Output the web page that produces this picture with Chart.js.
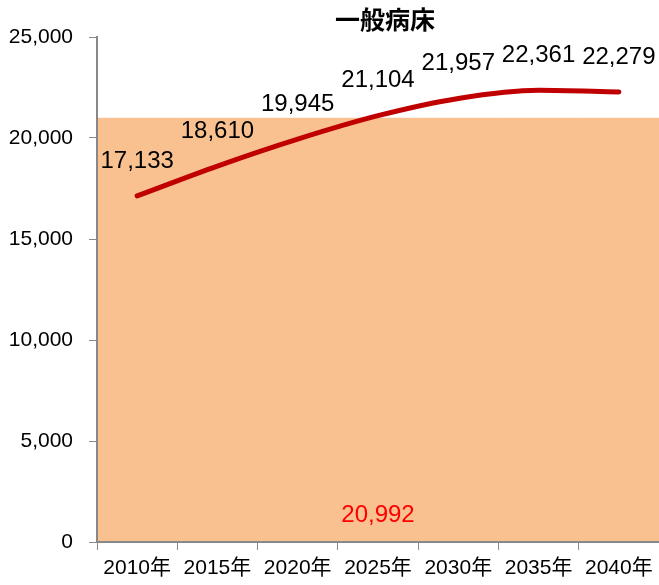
<!DOCTYPE html>
<html>
<head>
<meta charset="utf-8">
<script src="https://cdn.jsdelivr.net/npm/chart.js@4"></script>
<style>
  html, body { margin: 0; padding: 0; background: #fff; }
  #wrap { width: 659px; height: 585px; }
</style>
</head>
<body>
<div id="wrap"><canvas id="bedChart"></canvas></div>
<script>
const years = ['2010年', '2015年', '2020年', '2025年', '2030年', '2035年', '2040年'];
const demand = [17133, 18610, 19945, 21104, 21957, 22361, 22279];
const beds = [20992, 20992, 20992, 20992, 20992, 20992, 20992];
const bedLabelIndex = 3;
const yTicks = [0, 5000, 10000, 15000, 20000, 25000];

const FONT = "'Liberation Sans', 'Noto Sans CJK JP', sans-serif";

const fmt = v => v.toLocaleString('en-US');

// draws the value labels and the title
const labelPlugin = {
  id: 'labels',
  afterDatasetsDraw(chart) {
    const ctx = chart.ctx;
    ctx.save();
    ctx.textAlign = 'center';
    ctx.textBaseline = 'middle';

    const lineMeta = chart.getDatasetMeta(1);
    ctx.font = '24px ' + FONT;
    ctx.fillStyle = '#000';
    lineMeta.data.forEach((pt, i) => {
      ctx.fillText(fmt(demand[i]), pt.x, pt.y - 35);
    });

    const barMeta = chart.getDatasetMeta(0);
    const bar = barMeta.data[bedLabelIndex];
    ctx.fillStyle = '#FF0000';
    ctx.fillText(fmt(beds[bedLabelIndex]), bar.x, bar.base - 26);

    ctx.fillStyle = '#000';
    ctx.font = 'bold 25px ' + FONT;
    ctx.fillText('一般病床', 385, 22);
    ctx.restore();
  }
};

new Chart(document.getElementById('bedChart'), {
  type: 'bar',
  data: {
    labels: years,
    datasets: [
      {
        type: 'bar',
        label: '病床数',
        data: beds,
        backgroundColor: '#F9C190',
        borderWidth: 0,
        barPercentage: 1,
        categoryPercentage: 1,
        order: 2
      },
      {
        type: 'line',
        label: '必要病床数',
        data: demand,
        borderColor: '#C00000',
        borderWidth: 5,
        borderCapStyle: 'round',
        pointRadius: 0,
        cubicInterpolationMode: 'monotone',
        fill: false,
        order: 1
      }
    ]
  },
  options: {
    responsive: true,
    maintainAspectRatio: false,
    animation: false,
    layout: { padding: { top: 37, right: 0, left: 0, bottom: 0 } },
    plugins: {
      legend: { display: false },
      tooltip: { enabled: false },
      title: { display: false }
    },
    scales: {
      x: {
        offset: true,
        grid: {
          display: true,
          offset: true,
          drawOnChartArea: false,
          drawTicks: true,
          tickLength: 8,
          color: '#888',
          z: 1
        },
        border: { color: '#888', width: 2, z: 1 },
        ticks: {
          color: '#000',
          padding: 6,
          maxRotation: 0,
          minRotation: 0,
          autoSkip: false,
          font: { family: FONT, size: 21 }
        },
        afterFit: scale => { scale.height = 43; }
      },
      y: {
        min: 0,
        max: 25000,
        afterBuildTicks: scale => { scale.ticks = yTicks.map(v => ({ value: v })); },
        grid: {
          display: true,
          drawOnChartArea: false,
          drawTicks: true,
          tickLength: 8,
          color: '#888',
          z: 1
        },
        border: { color: '#888', width: 2, z: 1 },
        ticks: {
          color: '#000',
          padding: 16,
          callback: v => fmt(v),
          font: { family: FONT, size: 21 }
        },
        afterFit: scale => { scale.width = 97; }
      }
    }
  },
  plugins: [labelPlugin]
});
</script>
</body>
</html>
